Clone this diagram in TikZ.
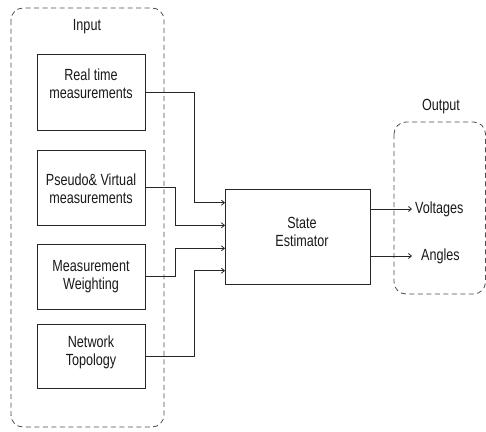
\documentclass[tikz,border=0pt]{standalone}
\usepackage{fontspec}
\usepackage{graphicx}
\setmainfont{Liberation Sans}
\usetikzlibrary{arrows.meta,calc}
\newcommand\tallt[1]{\scalebox{1}[1.28]{#1}}
\begin{document}
\begin{tikzpicture}[x=1pt,y=-1pt,
  every node/.style={font=\fontsize{12.6}{18}\selectfont, text=black!90},
  box/.style={draw=black!85, line width=0.8pt, rectangle, inner sep=0pt, minimum width=108pt},
  txt/.style={align=center, inner sep=0pt},
  dashbox/.style={draw=black!70, line width=0.8pt, dash pattern=on 5pt off 3.5pt, rounded corners=12pt},
  conn/.style={draw=black!85, line width=0.8pt},
  arr/.style={conn, -{Straight Barb[length=3pt,width=5pt]}}]
\useasboundingbox (0,0) rectangle (486,431);
% dashed groups
\draw[dashbox] (11,8) rectangle (164,427);
\draw[dashbox] (394,122) rectangle (485.5,294);
\node[txt] (inlab) at (87,27) {\tallt{Input}};
\node[txt] (outlab) at (441,107) {\tallt{Output}};
% input boxes
\node[box, minimum height=76pt] (b1) at (91,92) {};
\node[txt] (t1) at (91,84) {\tallt{Real time}\\\tallt{measurements}};
\node[box, minimum height=75pt] (b2) at (91,187.5) {};
\node[txt] (t2) at (91,188.5) {\tallt{Pseudo\& Virtual}\\\tallt{measurements}};
\node[box, minimum height=65pt] (b3) at (91,276.5) {};
\node[txt] (t3) at (91,276.5) {\tallt{Measurement}\\\tallt{Weighting}};
\node[box, minimum height=64pt] (b4) at (91,356) {};
\node[txt] (t4) at (91,352) {\tallt{Network}\\\tallt{Topology}};
% state estimator
\node[box, minimum width=145pt, minimum height=95pt] (se) at (297.5,236.5) {};
\node[txt] (tse) at (302,232) {\tallt{State}\\\tallt{Estimator}};
% input points
\coordinate (i1) at (225,202.7);
\coordinate (i2) at (225,225.3);
\coordinate (i3) at (225,248.3);
\coordinate (i4) at (225,270.7);
\draw[arr] (b1.east) -- (194,92) |- (i1);
\draw[arr] (b2.east) -- (175.7,187.5) |- (i2);
\draw[arr] (b3.east) -- (175.7,276.5) |- (i3);
\draw[arr] (b4.east) -- (194.3,356) |- (i4);
% outputs
\coordinate (o1) at (412,209);
\coordinate (o2) at (412,256);
\draw[arr] (se.east |- o1) -- (o1);
\draw[arr] (se.east |- o2) -- (o2);
\node[txt, anchor=west] (volt) at (415,209) {\tallt{Voltages}};
\node[txt, anchor=west] (ang) at (421,256) {\tallt{Angles}};
\end{tikzpicture}
\end{document}
